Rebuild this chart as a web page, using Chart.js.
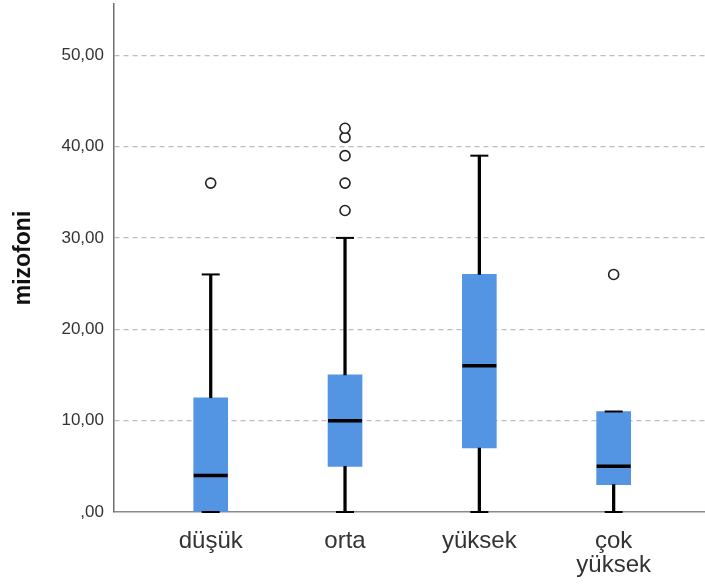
<!DOCTYPE html>
<html>
<head>
<meta charset="utf-8">
<script src="https://cdn.jsdelivr.net/npm/chart.js@4"></script>
<style>
  html, body { margin: 0; padding: 0; background: #fff; }
  canvas { display: block; }
</style>
</head>
<body>
<canvas id="boxChart" width="705" height="585"></canvas>
<script>
// veriler (SPSS kutu grafiği)
const categories = ['düşük', 'orta', 'yüksek', 'çok yüksek'];
const whiskerMin = [0, 0, 0, 0];
const q1 = [0, 5, 7, 3];
const median = [4, 10, 16, 5];
const q3 = [12.5, 15, 26, 11];
const whiskerMax = [26, 30, 39, 11];
const outliers = [[36], [33, 36, 39, 41, 42], [], [26]];
const yTicks = [0, 10, 20, 30, 40, 50];

const FONT = "'Liberation Sans', Arial, sans-serif";

const toRange = (a, b) => categories.map((_, i) => ({ x: i, y: [a[i], b[i]] }));
const toPoints = arr => categories.map((_, i) => ({ x: i, y: arr[i] }));

const capPoints = toPoints(whiskerMin).concat(toPoints(whiskerMax));
const outlierPoints = [];
outliers.forEach((list, i) => list.forEach(v => outlierPoints.push({ x: i, y: v })));

const ctx = document.getElementById('boxChart').getContext('2d');

new Chart(ctx, {
    type: 'bar',
    data: {
        datasets: [
            {
                // kutular
                data: toRange(q1, q3),
                backgroundColor: '#5495e3',
                barThickness: 34,
                grouped: false,
                order: 5
            },
            {
                // alt bıyık
                data: toRange(whiskerMin, q1),
                backgroundColor: '#000',
                barThickness: 2.6,
                grouped: false,
                order: 4
            },
            {
                // üst bıyık
                data: toRange(q3, whiskerMax),
                backgroundColor: '#000',
                barThickness: 2.6,
                grouped: false,
                order: 4
            },
            {
                // bıyık uçları
                type: 'scatter',
                data: capPoints,
                pointStyle: 'line',
                pointRadius: 9,
                borderColor: '#000',
                borderWidth: 2,
                clip: false,
                order: 2
            },
            {
                // medyan
                type: 'scatter',
                data: toPoints(median),
                pointStyle: 'line',
                pointRadius: 17,
                borderColor: '#000',
                borderWidth: 3.5,
                order: 1
            },
            {
                // aykırı değerler
                type: 'scatter',
                data: outlierPoints,
                pointStyle: 'circle',
                pointRadius: 5,
                backgroundColor: '#fff',
                borderColor: '#222',
                borderWidth: 1.6,
                order: 0
            }
        ]
    },
    options: {
        responsive: false,
        animation: false,
        layout: { autoPadding: false, padding: { top: 4, left: 0, right: 0, bottom: 0 } },
        plugins: {
            legend: { display: false },
            tooltip: { enabled: false }
        },
        scales: {
            x: {
                type: 'linear',
                min: -0.72,
                max: 3.68,
                offset: false,
                afterBuildTicks: s => { s.ticks = categories.map((_, i) => ({ value: i })); },
                afterFit: s => { s.height = 73; s.paddingLeft = 0; s.paddingRight = 0; },
                grid: { display: false },
                border: { color: '#8a8a8a', width: 1.5 },
                ticks: {
                    color: '#333',
                    padding: 10,
                    maxRotation: 0,
                    autoSkip: false,
                    font: { family: FONT, size: 24, lineHeight: 0.97 },
                    callback: v => categories[v] ? categories[v].split(' ') : ''
                }
            },
            y: {
                min: 0,
                max: 55.6,
                afterBuildTicks: s => { s.ticks = yTicks.map(v => ({ value: v })); },
                afterFit: s => { s.width = 114; s.paddingTop = 0; s.paddingBottom = 0; },
                grid: {
                    color: c => c.tick && c.tick.value === 0 ? 'rgba(0,0,0,0)' : '#bdbdbd',
                    lineWidth: 1.2,
                    drawTicks: false
                },
                border: { color: '#6f6f6f', width: 1.5, dash: [5, 4] },
                ticks: {
                    color: '#333',
                    padding: 10,
                    font: { family: FONT, size: 17 },
                    callback: v => v === 0 ? ',00' : v + ',00'
                },
                title: {
                    display: true,
                    text: 'mizofoni',
                    color: '#111',
                    padding: { top: 10, bottom: 0 },
                    font: { family: FONT, size: 23, weight: 'bold' }
                }
            }
        }
    }
});
</script>
</body>
</html>
